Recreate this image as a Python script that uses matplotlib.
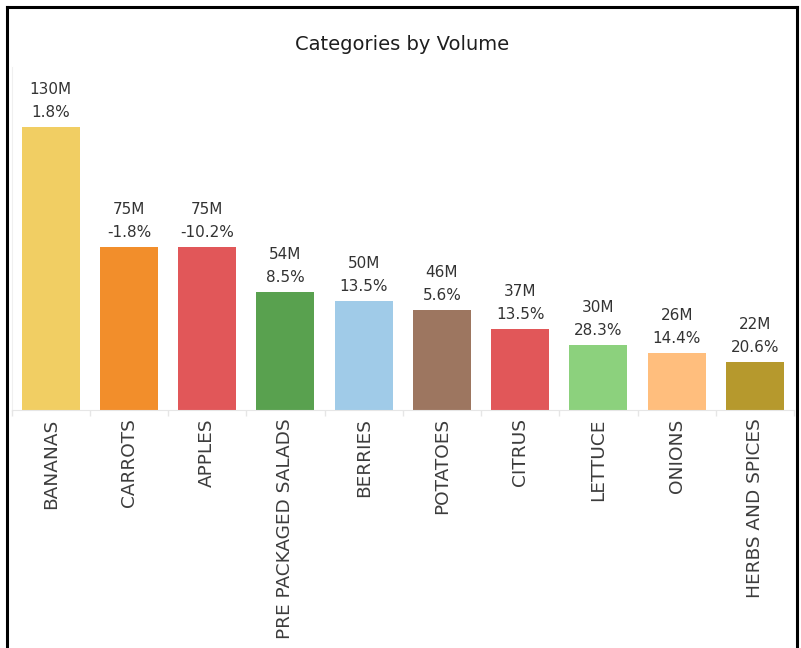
import matplotlib

matplotlib.use("Agg")
import matplotlib.pyplot as plt
from matplotlib.lines import Line2D

# Volume by produce category, with year-over-year change
categories = ["BANANAS", "CARROTS", "APPLES", "PRE PACKAGED SALADS", "BERRIES",
              "POTATOES", "CITRUS", "LETTUCE", "ONIONS", "HERBS AND SPICES"]
volume_m = [130, 75, 75, 54, 50, 46, 37, 30, 26, 22]
change_pct = [1.8, -1.8, -10.2, 8.5, 13.5, 5.6, 13.5, 28.3, 14.4, 20.6]
colors = ["#F1CE63", "#F28E2B", "#E15759", "#59A14F", "#A0CBE8",
          "#9D7660", "#E15759", "#8CD17D", "#FFBE7D", "#B6992D"]

W, H = 801, 648
fig = plt.figure(figsize=(W / 100, H / 100), dpi=100)
fig.patch.set_facecolor("white")

# pane in pixel terms: left 11.5, right 794, top 67, baseline 410
ax = fig.add_axes([11.5 / W, (H - 410) / H, (794 - 11.5) / W, (410 - 67) / H])

x = list(range(len(categories)))
ax.bar(x, volume_m, width=0.74, color=colors, edgecolor="none", zorder=2)

ymax = 130 * (410 - 67) / (410 - 127)
ax.set_ylim(0, ymax)
ax.set_xlim(-0.5, len(categories) - 0.5)

for xi, v, c in zip(x, volume_m, change_pct):
    ax.annotate(f"{v}M", (xi, v), xytext=(0, 27), textcoords="offset points",
                ha="center", va="center", fontsize=11, color="#333333")
    ax.annotate(f"{c:.1f}%", (xi, v), xytext=(0, 10.5), textcoords="offset points",
                ha="center", va="center", fontsize=11, color="#333333")

ax.set_xticks(x)
ax.set_xticklabels(categories, rotation=90, fontsize=13.3, color="#3c3c3c")
ax.tick_params(axis="x", which="major", length=0, pad=6)
ax.set_xticks([i - 0.5 for i in range(len(categories) + 1)], minor=True)
ax.tick_params(axis="x", which="minor", length=4, width=1, color="#e6e6e6")
ax.set_yticks([])

for side in ["top", "right"]:
    ax.spines[side].set_visible(False)
ax.spines["bottom"].set_color("#e6e6e6")
ax.spines["left"].set_color("#f0f0f0")

fig.text(402 / W, 1 - 44 / H, "Categories by Volume", ha="center", va="center",
         fontsize=14, color="#1e1e1e")

# dashboard frame
frame = dict(color="black", linewidth=2.2, transform=fig.transFigure)
fig.add_artist(Line2D([7 / W, 7 / W], [0, 1 - 7 / H], **frame))
fig.add_artist(Line2D([7 / W, 797 / W], [1 - 7 / H, 1 - 7 / H], **frame))
fig.add_artist(Line2D([797 / W, 797 / W], [0, 1 - 7 / H], **frame))

fig.savefig("out.png", dpi=100)
